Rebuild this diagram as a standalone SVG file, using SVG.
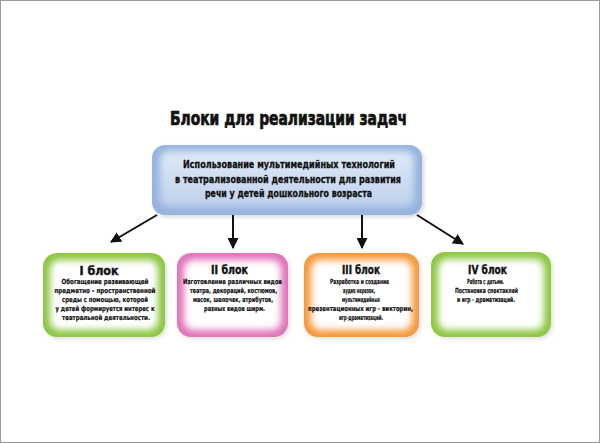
<svg xmlns="http://www.w3.org/2000/svg" width="600" height="443" viewBox="0 0 600 443">
<style>
.t{font-family:"DejaVu Sans","Liberation Sans",sans-serif;font-weight:bold;font-stretch:condensed;fill:#111;stroke:#111;text-anchor:middle}
.h{font-size:19px;stroke-width:0.7px}
.c{font-size:10.5px;stroke-width:0.3px}
.bt{font-size:12.5px;stroke-width:0.4px}
.b{font-size:7px;stroke-width:0.2px}
.ar{stroke:#111;stroke-width:2;fill:none}
</style>
<defs>
<filter id="blur" x="-20%" y="-20%" width="140%" height="140%"><feGaussianBlur stdDeviation="3.5"/></filter>
<filter id="sh" x="-20%" y="-20%" width="140%" height="140%"><feGaussianBlur stdDeviation="2"/></filter>
<marker id="ah" viewBox="0 0 10 10" refX="9" refY="5" markerWidth="5.5" markerHeight="5.5" orient="auto" markerUnits="strokeWidth"><path d="M0,0 L10,5 L0,10 z" fill="#111"/></marker>
<linearGradient id="cg" x1="0" y1="0" x2="0" y2="1"><stop offset="0" stop-color="#e0eaf7"/><stop offset="1" stop-color="#bed1ec"/></linearGradient>
</defs>
<rect x="0.5" y="0.5" width="599" height="442" fill="#fff" stroke="#9a9a9a"/>
<text class="t h" x="288.5" y="125" textLength="237" lengthAdjust="spacingAndGlyphs">Блоки для реализации задач</text>
<g id="center">
<rect x="154" y="147" width="270" height="70" rx="13" fill="#000" opacity="0.15" filter="url(#sh)"/>
<rect x="152" y="145" width="270" height="70" rx="13" fill="#96b3de"/>
<rect x="160" y="151" width="254" height="56" rx="9" fill="url(#cg)" filter="url(#blur)"/>
<text class="t c" x="289" y="168" textLength="212" lengthAdjust="spacingAndGlyphs">Использование мультимедийных технологий</text>
<text class="t c" x="288" y="183" textLength="226" lengthAdjust="spacingAndGlyphs">в театрализованной деятельности для развития</text>
<text class="t c" x="288.5" y="197" textLength="167" lengthAdjust="spacingAndGlyphs">речи у детей дошкольного возраста</text>
</g>
<g id="connectors">
<line class="ar" x1="157" y1="215" x2="111" y2="242" marker-end="url(#ah)"/>
<line class="ar" x1="233" y1="215" x2="233" y2="248" marker-end="url(#ah)"/>
<line class="ar" x1="362" y1="215" x2="362" y2="248" marker-end="url(#ah)"/>
<line class="ar" x1="417" y1="215" x2="463" y2="244" marker-end="url(#ah)"/>
</g>
<g id="block1">
<rect x="45" y="255" width="122" height="84" rx="14" fill="#000" opacity="0.12" filter="url(#sh)"/>
<rect x="43" y="253" width="122" height="84" rx="14" fill="#8cc63f"/>
<rect x="50" y="260" width="108" height="70" rx="9" fill="#fff" filter="url(#blur)"/>
<text class="t bt" x="99" y="275" textLength="39" lengthAdjust="spacingAndGlyphs">I блок</text>
<text class="t b" x="105" y="284" textLength="87" lengthAdjust="spacingAndGlyphs">Обогащение развивающей</text>
<text class="t b" x="105" y="293" textLength="101" lengthAdjust="spacingAndGlyphs">предметно – пространственной</text>
<text class="t b" x="105" y="302" textLength="86" lengthAdjust="spacingAndGlyphs">среды с помощью, которой</text>
<text class="t b" x="105" y="311" textLength="99" lengthAdjust="spacingAndGlyphs">у детей формируется интерес к</text>
<text class="t b" x="106" y="320" textLength="88" lengthAdjust="spacingAndGlyphs">театральной деятельности.</text>
</g>
<g id="block2">
<rect x="179" y="255" width="111" height="84" rx="14" fill="#000" opacity="0.12" filter="url(#sh)"/>
<rect x="177" y="253" width="111" height="84" rx="14" fill="#e272b8"/>
<rect x="184" y="260" width="97" height="70" rx="9" fill="#fff" filter="url(#blur)"/>
<text class="t bt" x="229.5" y="274" textLength="37" lengthAdjust="spacingAndGlyphs">II блок</text>
<text class="t b" x="232.5" y="284" textLength="99" lengthAdjust="spacingAndGlyphs">Изготовление различных видов</text>
<text class="t b" x="233.5" y="293" textLength="87" lengthAdjust="spacingAndGlyphs">театра, декораций, костюмов,</text>
<text class="t b" x="233" y="302" textLength="80" lengthAdjust="spacingAndGlyphs">масок, шапочек, атрибутов,</text>
<text class="t b" x="234.5" y="311" textLength="61" lengthAdjust="spacingAndGlyphs">разных видов ширм.</text>
</g>
<g id="block3">
<rect x="306" y="255" width="115" height="84" rx="14" fill="#000" opacity="0.12" filter="url(#sh)"/>
<rect x="304" y="253" width="115" height="84" rx="14" fill="#f6983a"/>
<rect x="311" y="260" width="101" height="70" rx="9" fill="#fff" filter="url(#blur)"/>
<text class="t bt" x="361" y="274" textLength="38" lengthAdjust="spacingAndGlyphs">III блок</text>
<text class="t b" x="359.5" y="284" textLength="59" lengthAdjust="spacingAndGlyphs">Разработка и создание</text>
<text class="t b" x="359" y="293" textLength="32" lengthAdjust="spacingAndGlyphs">аудио нарезок,</text>
<text class="t b" x="361" y="302" textLength="38" lengthAdjust="spacingAndGlyphs">мультимедийных</text>
<text class="t b" x="360.5" y="311" textLength="105" lengthAdjust="spacingAndGlyphs">презентационных игр - викторин,</text>
<text class="t b" x="361" y="320" textLength="44" lengthAdjust="spacingAndGlyphs">игр-драматизаций.</text>
</g>
<g id="block4">
<rect x="433" y="254" width="120" height="85" rx="14" fill="#000" opacity="0.12" filter="url(#sh)"/>
<rect x="431" y="252" width="120" height="85" rx="14" fill="#8cc63f"/>
<rect x="438" y="259" width="106" height="71" rx="9" fill="#fff" filter="url(#blur)"/>
<text class="t bt" x="487.5" y="274" textLength="39" lengthAdjust="spacingAndGlyphs">IV блок</text>
<text class="t b" x="485.5" y="284" textLength="37" lengthAdjust="spacingAndGlyphs">Работа с детьми.</text>
<text class="t b" x="486.5" y="293" textLength="63" lengthAdjust="spacingAndGlyphs">Постановка спектаклей</text>
<text class="t b" x="486" y="302" textLength="58" lengthAdjust="spacingAndGlyphs">и игр - драматизаций.</text>
</g>
</svg>
